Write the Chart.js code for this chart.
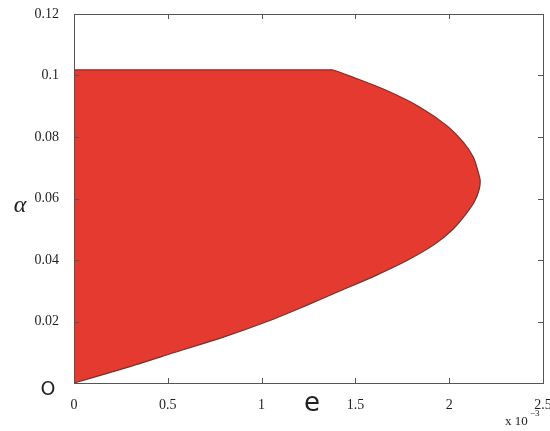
<!DOCTYPE html>
<html>
<head>
<meta charset="utf-8">
<script src="https://cdn.jsdelivr.net/npm/chart.js@4"></script>
<style>
  html, body { margin: 0; padding: 0; background: #fff; }
  #wrap { width: 550px; height: 431px; position: relative; }
</style>
</head>
<body>
<div id="wrap"><canvas id="region-chart"></canvas></div>
<script>
// boundary of the red region (e in units of 1e-3)
const eValues = [0, 0.28, 0.54, 0.80, 1.03, 1.23, 1.42, 1.61, 1.78, 1.92, 2.02, 2.09, 2.135, 2.16, 2.165,
                 2.155, 2.129, 2.075, 1.987, 1.844, 1.667, 1.489, 1.38, 1.36, 0];
const alphaValues = [0, 0.005, 0.010, 0.015, 0.020, 0.025, 0.030, 0.035, 0.040, 0.045, 0.050, 0.055, 0.059, 0.063, 0.066,
                     0.0685, 0.0734, 0.0783, 0.0837, 0.0897, 0.0951, 0.0994, 0.1018, 0.1018, 0.1018];
const xTicks = [0, 0.5, 1, 1.5, 2, 2.5];
const yTicks = [0, 0.02, 0.04, 0.06, 0.08, 0.1, 0.12];

const points = eValues.map((e, i) => ({x: e, y: alphaValues[i]}));

// box round the plot, inward ticks and the extra labels
const framePlugin = {
    id: 'frame',
    afterDraw(chart) {
        const ctx = chart.ctx;
        const a = chart.chartArea;
        const xs = chart.scales.x, ys = chart.scales.y;
        ctx.save();
        ctx.strokeStyle = '#555';
        ctx.lineWidth = 1;
        ctx.strokeRect(a.left + 0.5, a.top + 0.5, a.right - a.left, a.bottom - a.top);
        ctx.beginPath();
        xTicks.forEach(v => {
            const px = Math.round(xs.getPixelForValue(v)) + 0.5;
            ctx.moveTo(px, a.bottom); ctx.lineTo(px, a.bottom - 5);
            ctx.moveTo(px, a.top); ctx.lineTo(px, a.top + 5);
        });
        yTicks.forEach(v => {
            const py = Math.round(ys.getPixelForValue(v)) + 0.5;
            ctx.moveTo(a.left, py); ctx.lineTo(a.left + 5, py);
            ctx.moveTo(a.right, py); ctx.lineTo(a.right - 5, py);
        });
        ctx.stroke();

        ctx.fillStyle = '#222';
        ctx.textAlign = 'center';
        ctx.textBaseline = 'middle';
        ctx.font = 'italic 24px "Liberation Serif"';
        ctx.fillText('\u03b1', 20, 206);
        ctx.font = '26px "DejaVu Sans"';
        ctx.fillText('e', 312, 404);
        ctx.font = '19px "DejaVu Sans"';
        ctx.fillText('O', 48, 390);
        ctx.fillStyle = '#222';
        ctx.font = '13px "Liberation Serif"';
        ctx.textAlign = 'left';
        ctx.fillText('x 10', 505, 422);
        ctx.font = '9px "Liberation Serif"';
        ctx.fillText('\u22123', 530, 414);
        ctx.restore();
    }
};

new Chart(document.getElementById('region-chart'), {
    type: 'scatter',
    data: {
        datasets: [{
            data: points,
            showLine: true,
            fill: 'shape',
            backgroundColor: '#e53a30',
            borderColor: '#8a2a22',
            borderWidth: 1.2,
            tension: 0.3,
            pointRadius: 0
        }]
    },
    options: {
        responsive: true,
        maintainAspectRatio: false,
        animation: false,
        layout: {
            padding: {left: 0, right: 7, top: 14, bottom: 0}
        },
        plugins: {
            legend: {display: false},
            tooltip: {enabled: false}
        },
        scales: {
            x: {
                type: 'linear',
                min: 0,
                max: 2.5,
                afterBuildTicks: scale => { scale.ticks = xTicks.map(v => ({value: v})); },
                afterFit: scale => {
                    scale.height = 48;
                    scale.paddingLeft = 0;
                    scale.paddingRight = 0;
                },
                grid: {display: false, drawOnChartArea: false},
                border: {display: false},
                ticks: {
                    padding: 6,
                    maxRotation: 0,
                    color: '#1e1e1e',
                    font: {family: 'Liberation Serif', size: 14},
                    callback: v => String(v)
                }
            },
            y: {
                type: 'linear',
                min: 0,
                max: 0.12,
                afterBuildTicks: scale => { scale.ticks = yTicks.map(v => ({value: v})); },
                afterFit: scale => {
                    scale.width = 74;
                    scale.paddingTop = 0;
                    scale.paddingBottom = 0;
                },
                grid: {display: false, drawOnChartArea: false},
                border: {display: false},
                ticks: {
                    padding: 7,
                    color: '#1e1e1e',
                    font: {family: 'Liberation Serif', size: 14},
                    callback: v => v === 0 ? '' : String(Number(v.toFixed(2)))
                }
            }
        }
    },
    plugins: [framePlugin]
});
</script>
</body>
</html>
